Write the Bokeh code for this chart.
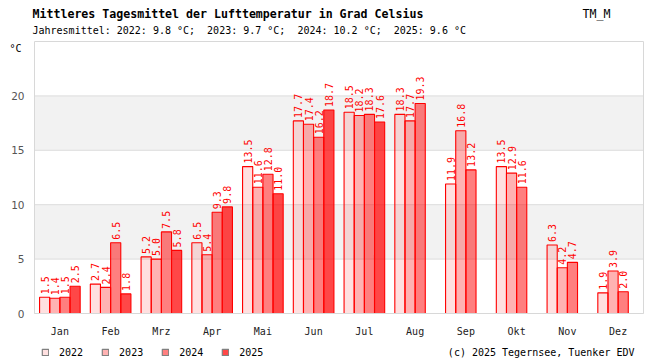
import math
from bokeh.plotting import figure
from bokeh.models import (ColumnDataSource, Range1d, FixedTicker, Label, Legend,
                          LegendItem)
from bokeh.transform import dodge
from bokeh.core.properties import value
from bokeh.embed import file_html
from bokeh.resources import INLINE

# ---- data ----
months = ["Jan", "Feb", "Mrz", "Apr", "Mai", "Jun", "Jul", "Aug", "Sep", "Okt", "Nov", "Dez"]
years = ["2022", "2023", "2024", "2025"]
t2022 = [1.5, 2.7, 5.2, 6.5, 13.5, 17.7, 18.5, 18.3, 11.9, 13.5, 6.3, 1.9]
t2023 = [1.4, 2.4, 5.0, 5.4, 11.6, 17.4, 18.2, 17.7, 16.8, 12.9, 4.2, 3.9]
t2024 = [1.5, 6.5, 7.5, 9.3, 12.8, 16.2, 18.3, 19.3, 13.2, 11.6, 4.7, 2.0]
t2025 = [2.5, 1.8, 5.8, 9.8, 11.0, 18.7, 17.6, None, None, None, None, None]
annual = [9.8, 9.7, 10.2, 9.6]
y_ticks = [0, 5, 10, 15, 20]
y_max = 25

series = [t2022, t2023, t2024, t2025]
alphas = [0.12, 0.30, 0.50, 0.72]
offsets = [-0.3, -0.1, 0.1, 0.3]

MONO = "DejaVu Sans Mono"
NB = "\u00a0"
NAN = float("nan")
W, H = 650, 360
PL, PR, PT, PB = 34, 643, 41, 313          # plot box in pixels
n = len(months)
ux = (PR - PL) / n
uy = (PB - PT) / y_max

p = figure(
    x_range=Range1d(-PL / ux, n + (W - PR) / ux),
    y_range=Range1d(-(H - PB) / uy, y_max + PT / uy),
    width=W, height=H,
    output_backend="svg", toolbar_location=None,
    min_border=0, min_border_left=0, min_border_right=0, min_border_top=0, min_border_bottom=0,
    title=None,
)
p.background_fill_color = "white"
p.border_fill_color = "white"
p.outline_line_color = None
p.xgrid.visible = False
p.ygrid.visible = False

# bands + grid lines of the plot box
p.quad(left=0, right=n, bottom=y_ticks[1::2][:len(y_ticks[2::2])], top=y_ticks[2::2],
       fill_color="#f2f2f2", line_color=None)
p.segment(x0=[0] * len(y_ticks), x1=[n] * len(y_ticks), y0=y_ticks, y1=y_ticks,
          line_color="#dcdcdc", line_width=1)

mx = [i + 0.5 for i in range(n)]
for vals, a, off, yr in zip(series, alphas, offsets, years):
    xs = [m for m, v in zip(mx, vals) if v is not None]
    vs = [v for v in vals if v is not None]
    src = ColumnDataSource(dict(mx=xs, val=vs, lbl=["%.1f" % v for v in vs]))
    p.vbar(x=dodge("mx", off), top="val", width=0.2, source=src,
           fill_color="#ff0000", fill_alpha=a, line_color="#ff0000", line_width=1.1)
    p.text(x=dodge("mx", off), y="val", text="lbl", source=src,
           angle=math.pi / 2, text_align="left", text_baseline="middle", y_offset=-3,
           text_font=value(MONO), text_font_size="10px", text_color="#ff0000")

# plot box outline
p.quad(left=0, right=n, bottom=0, top=y_max, fill_color=None, line_color="#d8d8d8",
       line_width=1)

# axes pinned to the plot box
p.yaxis.fixed_location = 0
p.yaxis.bounds = (0, y_max)
p.yaxis.ticker = FixedTicker(ticks=y_ticks)
p.yaxis.axis_line_color = None
p.yaxis.major_tick_line_color = None
p.yaxis.minor_tick_line_color = None
p.yaxis.major_tick_out = 0
p.yaxis.major_label_standoff = 10
p.yaxis.major_label_text_font = "DejaVu Sans"
p.yaxis.major_label_text_font_size = "10.5px"
p.yaxis.major_label_text_color = "#555555"

p.xaxis.fixed_location = 0
p.xaxis.bounds = (0, n)
p.xaxis.ticker = FixedTicker(ticks=mx)
p.xaxis.major_label_overrides = {m: name for m, name in zip(mx, months)}
p.xaxis.axis_line_color = None
p.xaxis.major_tick_line_color = None
p.xaxis.minor_tick_line_color = None
p.xaxis.major_tick_out = 0
p.xaxis.major_label_standoff = 12
p.xaxis.major_label_text_font = MONO
p.xaxis.major_label_text_font_size = "10px"
p.xaxis.major_label_text_color = "#222222"

# legend (swatch-only renderers, nothing drawn in the plot)
items = []
for yr, a in zip(years, alphas):
    r = p.vbar(x=[NAN], top=[NAN], width=0.2, fill_color="#ff0000", fill_alpha=a,
               line_color="#808080", line_width=1.2)
    items.append(LegendItem(label=yr, renderers=[r]))
legend = Legend(items=items, orientation="horizontal", location=(41, 2),
                glyph_width=8, glyph_height=8, label_height=12, label_standoff=10,
                spacing=18, padding=0, margin=0, border_line_color=None,
                background_fill_alpha=0, label_text_font=MONO,
                label_text_font_size="10px", label_text_color="#000000")
p.add_layout(legend, "center")

# texts
sub = "Jahresmittel: " + (";" + NB + " ").join(
    "%s: %.1f °C" % (y, v) for y, v in zip(years, annual))

def mk(text, x, y, size="10px", style="normal", align="left", color="#000000"):
    return Label(x=x, y=y, x_units="screen", y_units="screen", text=text,
                 text_font=MONO, text_font_size=size, text_font_style=style,
                 text_align=align, text_baseline="middle", text_color=color)

p.add_layout(mk("Mittleres Tagesmittel der Lufttemperatur in Grad Celsius", 32, H - 13,
                size="11.6px", style="bold"))
p.add_layout(mk("TM_M", 582, H - 13, size="11.6px"))
p.add_layout(mk(sub, 32, H - 30))
p.add_layout(mk("°C", 9, H - 48))
p.add_layout(mk("(c) 2025 Tegernsee, Tuenker EDV", 634, H - 352, align="right"))

open("out.html", "w").write(file_html(p, INLINE))
